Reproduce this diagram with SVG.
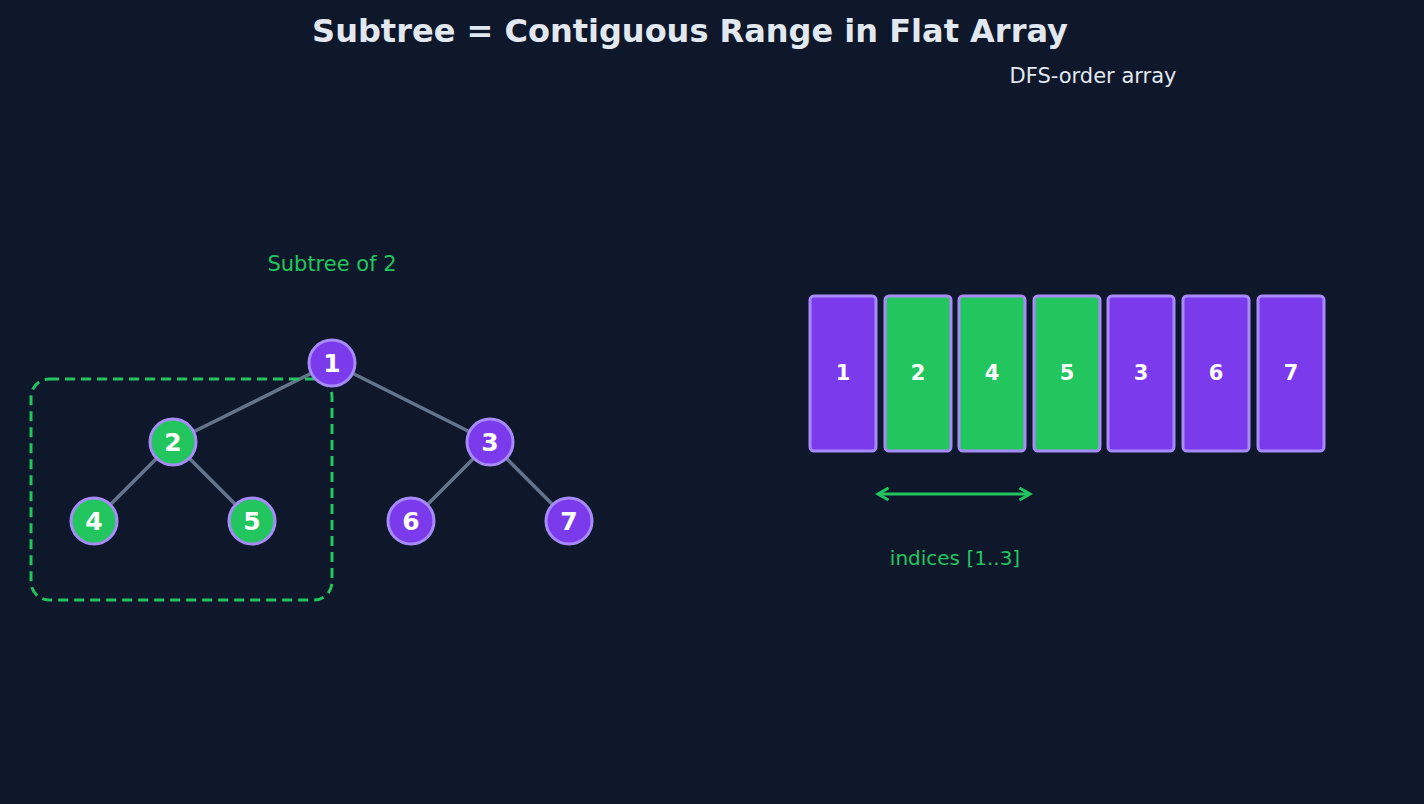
<svg xmlns="http://www.w3.org/2000/svg" width="1424" height="804" viewBox="0 0 1424 804">
<defs>
<style>
text{font-family:"DejaVu Sans",sans-serif;text-anchor:middle}
.n{stroke:#a78bfa;stroke-width:3}
.p{fill:#7c3aed}.g{fill:#22c55e}
.nt{fill:#fff;font-size:25px;font-weight:bold;dominant-baseline:central}
.ct{fill:#fff;font-size:21px;font-weight:bold;dominant-baseline:central}
.e{stroke:#64748b;stroke-width:3.5}
</style>
<marker id="ah" viewBox="0 0 10 10" refX="8" refY="5" markerWidth="5" markerHeight="5" orient="auto-start-reverse"><path d="M1,1 L8,5 L1,9" fill="none" stroke="#22c55e" stroke-width="2"/></marker>
</defs>
<rect width="1424" height="804" fill="#0f172a"/>
<text x="690" y="42" font-size="32" font-weight="bold" fill="#e2e8f0">Subtree = Contiguous Range in Flat Array</text>
<text x="1093" y="83" font-size="21" fill="#e2e8f0">DFS-order array</text>
<text x="332" y="271" font-size="21" fill="#22c55e">Subtree of 2</text>
<g id="connectors">
<line class="e" x1="332" y1="363" x2="173" y2="442"/>
<line class="e" x1="332" y1="363" x2="490" y2="442"/>
<line class="e" x1="173" y1="442" x2="94" y2="521"/>
<line class="e" x1="173" y1="442" x2="252" y2="521"/>
<line class="e" x1="490" y1="442" x2="411" y2="521"/>
<line class="e" x1="490" y1="442" x2="569" y2="521"/>
<line x1="878" y1="494" x2="1030" y2="494" stroke="#22c55e" stroke-width="3" marker-start="url(#ah)" marker-end="url(#ah)"/>
</g>
<rect x="31" y="379" width="301" height="221" rx="18" fill="none" stroke="#22c55e" stroke-width="3" stroke-dasharray="10,6"/>
<g id="n1"><circle class="n p" cx="332" cy="363" r="23"/><text class="nt" x="332" y="363">1</text></g>
<g id="n2"><circle class="n g" cx="173" cy="442" r="23"/><text class="nt" x="173" y="442">2</text></g>
<g id="n3"><circle class="n p" cx="490" cy="442" r="23"/><text class="nt" x="490" y="442">3</text></g>
<g id="n4"><circle class="n g" cx="94" cy="521" r="23"/><text class="nt" x="94" y="521">4</text></g>
<g id="n5"><circle class="n g" cx="252" cy="521" r="23"/><text class="nt" x="252" y="521">5</text></g>
<g id="n6"><circle class="n p" cx="411" cy="521" r="23"/><text class="nt" x="411" y="521">6</text></g>
<g id="n7"><circle class="n p" cx="569" cy="521" r="23"/><text class="nt" x="569" y="521">7</text></g>
<g id="c0"><rect class="n p" x="810" y="296" width="66" height="155" rx="4"/><text class="ct" x="843" y="373">1</text></g>
<g id="c1"><rect class="n g" x="885" y="296" width="66" height="155" rx="4"/><text class="ct" x="918" y="373">2</text></g>
<g id="c2"><rect class="n g" x="959" y="296" width="66" height="155" rx="4"/><text class="ct" x="992" y="373">4</text></g>
<g id="c3"><rect class="n g" x="1034" y="296" width="66" height="155" rx="4"/><text class="ct" x="1067" y="373">5</text></g>
<g id="c4"><rect class="n p" x="1108" y="296" width="66" height="155" rx="4"/><text class="ct" x="1141" y="373">3</text></g>
<g id="c5"><rect class="n p" x="1183" y="296" width="66" height="155" rx="4"/><text class="ct" x="1216" y="373">6</text></g>
<g id="c6"><rect class="n p" x="1258" y="296" width="66" height="155" rx="4"/><text class="ct" x="1291" y="373">7</text></g>
<text x="955" y="565" font-size="20" fill="#22c55e">indices [1..3]</text>
</svg>
